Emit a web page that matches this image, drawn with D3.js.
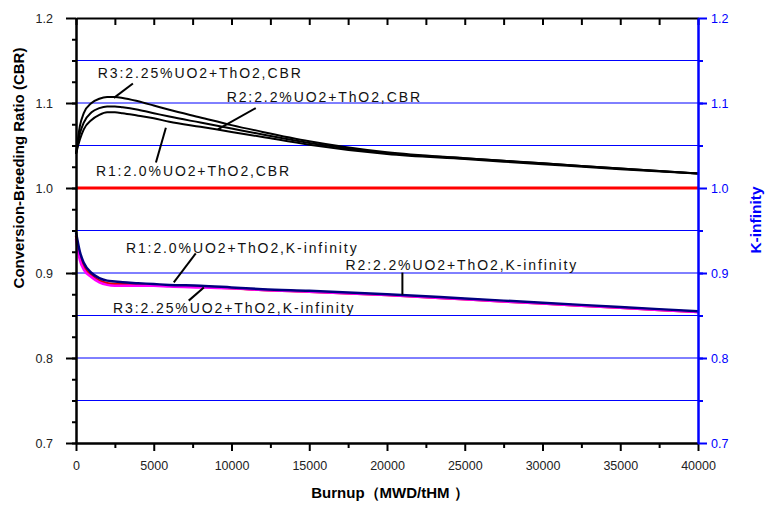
<!DOCTYPE html>
<html>
<head>
<meta charset="utf-8">
<script src="https://cdn.jsdelivr.net/npm/d3@7"></script>
<style>
body { margin: 0; background: #fff; }
text { font-family: "Liberation Sans", Arial, sans-serif; }
</style>
</head>
<body>
<div id="main"></div>
<script>
// burnup points (MWD/tHM)
var burnup = [0, 250, 500, 1000, 1500, 2000, 2500, 3000, 4000, 5000, 6000, 8000,
    10000, 12000, 15000, 20000, 25000, 30000, 35000, 40000];

// CBR curves, left axis
var cbrR1 = [1.040, 1.057, 1.069, 1.080, 1.086, 1.089, 1.089, 1.088, 1.085, 1.082, 1.078, 1.072,
    1.066, 1.060, 1.051, 1.040, 1.034, 1.028, 1.022, 1.017];
var cbrR2 = [1.040, 1.064, 1.077, 1.089, 1.094, 1.096, 1.096, 1.095, 1.092, 1.088, 1.084, 1.077,
    1.070, 1.063, 1.053, 1.041, 1.035, 1.029, 1.023, 1.017];
var cbrR3 = [1.040, 1.073, 1.088, 1.100, 1.105, 1.107, 1.107, 1.106, 1.102, 1.097, 1.092, 1.083,
    1.074, 1.066, 1.055, 1.042, 1.035, 1.029, 1.023, 1.017];

// K-infinity curves, right axis
var kinfR1 = [0.948, 0.925, 0.912, 0.900, 0.894, 0.891, 0.890, 0.889, 0.888, 0.887, 0.886, 0.885,
    0.883, 0.881, 0.879, 0.875, 0.870, 0.865, 0.860, 0.855];
var kinfR2 = [0.944, 0.920, 0.908, 0.897, 0.891, 0.888, 0.887, 0.887, 0.886, 0.886, 0.885, 0.884,
    0.882, 0.880, 0.878, 0.874, 0.869, 0.864, 0.859, 0.854];
var kinfR3 = [0.940, 0.915, 0.904, 0.895, 0.889, 0.886, 0.885, 0.885, 0.885, 0.885, 0.884, 0.883,
    0.882, 0.880, 0.878, 0.874, 0.869, 0.864, 0.859, 0.854];

// reference line CBR = 1
var refLine = [1.0, 1.0];
var refBurnup = [0, 40000];

var xTicks = [0, 5000, 10000, 15000, 20000, 25000, 30000, 35000, 40000];
var yTickLabels = ["0.7", "0.8", "0.9", "1.0", "1.1", "1.2"];
var gridValues = [0.75, 0.8, 0.85, 0.9, 0.95, 1.05, 1.1, 1.15];

// annotations: text, [burnup, value] of text start, leader line from/to
var labels = [
    { text: "R3:2.25%UO2+ThO2,CBR", at: [1400, 1.130], from: [3660, 1.123], to: [2440, 1.106] },
    { text: "R2:2.2%UO2+ThO2,CBR", at: [9690, 1.101], from: [11560, 1.094], to: [9120, 1.069] },
    { text: "R1:2.0%UO2+ThO2,CBR", at: [1280, 1.014], from: [5140, 1.030], to: [5780, 1.071] },
    { text: "R1:2.0%UO2+ThO2,K-infinity", at: [3210, 0.924], from: [7700, 0.923], to: [6290, 0.889] },
    { text: "R2:2.2%UO2+ThO2,K-infinity", at: [17330, 0.904], from: [20990, 0.9005], to: [20990, 0.8745] },
    { text: "R3:2.25%UO2+ThO2,K-infinity", at: [2380, 0.853], from: [7250, 0.8675], to: [8220, 0.883] }
];

var ctx = { w: 768, h: 507, left: 76, right: 698, top: 18, bottom: 443 };

var svg = d3.select("#main").append("svg")
    .attr("width", ctx.w)
    .attr("height", ctx.h);

var x = d3.scaleLinear().domain([0, 40000]).range([ctx.left, ctx.right]);
var y = d3.scaleLinear().domain([0.7, 1.2]).range([ctx.bottom, ctx.top]);
var y2 = d3.scaleLinear().domain([0.7, 1.2]).range([ctx.bottom, ctx.top]);

// grid lines
svg.append("g").selectAll("line")
    .data(gridValues)
    .enter()
    .append("line")
    .attr("x1", ctx.left)
    .attr("x2", ctx.right)
    .attr("y1", function (d) { return y(d); })
    .attr("y2", function (d) { return y(d); })
    .attr("stroke", "#0000ff")
    .attr("stroke-width", 1);

// reference line
svg.append("path")
    .attr("d", d3.line()
        .x(function (d, i) { return x(refBurnup[i]); })
        .y(function (d) { return y(d); })(refLine))
    .attr("fill", "none")
    .attr("stroke", "#ff0000")
    .attr("stroke-width", 3);

// K-infinity
var kSeries = [[kinfR2, "#e00000"], [kinfR3, "#ff00ff"], [kinfR1, "#000080"]];
kSeries.forEach(function (s) {
    svg.append("path")
        .attr("d", d3.line().curve(d3.curveMonotoneX)
            .x(function (d, i) { return x(burnup[i]); })
            .y(function (d) { return y2(d); })(s[0]))
        .attr("fill", "none")
        .attr("stroke", s[1])
        .attr("stroke-width", 2.5);
});

// CBR
[cbrR1, cbrR2, cbrR3].forEach(function (s) {
    svg.append("path")
        .attr("d", d3.line().curve(d3.curveMonotoneX)
            .x(function (d, i) { return x(burnup[i]); })
            .y(function (d) { return y(d); })(s))
        .attr("fill", "none")
        .attr("stroke", "#000")
        .attr("stroke-width", 2);
});

var styleAxis = function (g, color) {
    g.selectAll("line, path").attr("stroke", color).attr("stroke-width", 2);
};

// top frame
svg.append("g")
    .attr("transform", "translate(0," + ctx.top + ")")
    .call(d3.axisBottom(x).tickValues(d3.range(0, 40001, 2500)).tickSize(7).tickSizeOuter(0).tickFormat(""))
    .call(styleAxis, "#000");

// bottom axis
var bottom = svg.append("g").attr("transform", "translate(0," + ctx.bottom + ")");
bottom.append("g")
    .call(d3.axisBottom(x).tickValues(d3.range(2500, 40000, 5000)).tickSize(5).tickSizeOuter(0).tickFormat(""))
    .call(styleAxis, "#000");
bottom.append("g")
    .call(d3.axisBottom(x).tickValues(xTicks).tickSize(8).tickSizeOuter(0).tickPadding(10).tickFormat(d3.format("d")))
    .call(styleAxis, "#000")
    .call(function (g) {
        g.selectAll("text").attr("font-size", 12.5).attr("fill", "#222")
            .attr("font-family", "'Liberation Sans Narrow', 'Liberation Sans', Arial");
    });

// left axis
var leftAx = svg.append("g").attr("transform", "translate(" + ctx.left + ",0)");
leftAx.append("g")
    .call(d3.axisLeft(y).tickValues(d3.range(0, 20).map(function (i) { return 0.7 + i * 0.025; })).tickSize(4).tickSizeOuter(0).tickFormat(""))
    .call(styleAxis, "#000");
leftAx.append("g")
    .call(d3.axisLeft(y).tickValues(yTickLabels.map(Number)).tickSize(10).tickSizeOuter(0).tickPadding(13)
        .tickFormat(function (d, i) { return yTickLabels[i]; }))
    .call(styleAxis, "#000")
    .call(function (g) {
        g.selectAll("text").attr("font-size", 12.5).attr("fill", "#222");
    });

// right axis
var rightAx = svg.append("g").attr("transform", "translate(" + ctx.right + ",0)");
rightAx.append("g")
    .call(d3.axisRight(y2).tickValues(gridValues).tickSize(5).tickSizeOuter(0).tickFormat(""))
    .call(styleAxis, "#0000ff");
rightAx.append("g")
    .call(d3.axisRight(y2).tickValues(yTickLabels.map(Number)).tickSize(9).tickSizeOuter(0).tickPadding(4)
        .tickFormat(function (d, i) { return yTickLabels[i]; }))
    .call(styleAxis, "#0000ff")
    .call(function (g) {
        g.selectAll("text").attr("font-size", 12.5).attr("fill", "#0000ff");
    });

// annotations
var ann = svg.append("g");
ann.selectAll("line")
    .data(labels)
    .enter()
    .append("line")
    .attr("x1", function (d) { return x(d.from[0]); })
    .attr("y1", function (d) { return y(d.from[1]); })
    .attr("x2", function (d) { return x(d.to[0]); })
    .attr("y2", function (d) { return y(d.to[1]); })
    .attr("stroke", "#000")
    .attr("stroke-width", 2);
ann.selectAll("text")
    .data(labels)
    .enter()
    .append("text")
    .attr("x", function (d) { return x(d.at[0]); })
    .attr("y", function (d) { return y(d.at[1]); })
    .attr("font-size", 14)
    .attr("letter-spacing", 1.9)
    .attr("fill", "#111")
    .text(function (d) { return d.text; });

// axis titles
svg.append("text")
    .attr("transform", "translate(24,168) rotate(-90)")
    .attr("text-anchor", "middle")
    .attr("font-size", 15)
    .attr("font-weight", "bold")
    .text("Conversion-Breeding Ratio (CBR)");

svg.append("text")
    .attr("transform", "translate(761,220) rotate(-90)")
    .attr("text-anchor", "middle")
    .attr("font-size", 15.5)
    .attr("font-weight", "bold")
    .attr("fill", "#0000ff")
    .text("K-infinity");

svg.append("text")
    .attr("x", 390)
    .attr("y", 498)
    .attr("text-anchor", "middle")
    .attr("font-size", 15)
    .attr("font-weight", "bold")
    .text("Burnup（MWD/tHM ）");
</script>
</body>
</html>
